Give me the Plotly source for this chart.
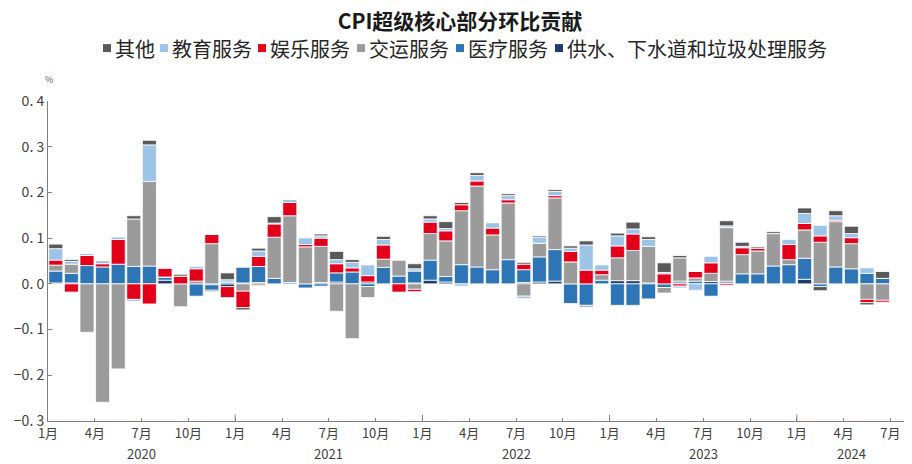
import plotly.graph_objects as go

months = list(range(54))  # Jan 2020 .. Jun 2024 (slot for Jul 2024 left empty)

water     = [0.002,0.002,0,0,0,0,0,0.008,0,0,-0.002,-0.006,0.002,0.003,0,0,0,0.003,0.004,0,0.004,0,0,0.002,
             0.008,0.004,0,0,0,0,0.003,0.004,0.006,0,0,0,0.007,0.007,0.002,0,0.002,0,0.005,0.002,
             0,0,0,0,0.010,0,0,0,0,0]
medical   = [0.026,0.021,0.040,0.037,0.043,0.038,0.039,0.007,0,-0.027,-0.012,0.004,0.035,0.035,0.012,0.003,-0.009,-0.005,0.020,0.026,-0.006,0.036,0.017,0.026,
             0.044,0.012,0.042,0.037,0.031,0.053,0.028,0.055,0.069,-0.043,-0.047,0.008,-0.047,-0.047,-0.033,-0.008,0.004,0.006,-0.027,0.004,
             0.022,0.022,0.039,0.042,0.046,-0.006,0.037,0.033,0.023,0.012]
transport = [0.013,0.020,-0.106,-0.259,-0.186,0.104,0.185,0,-0.050,0.006,0.088,0,-0.016,-0.004,0.090,0.146,0.081,0.079,-0.060,-0.120,-0.024,0.018,0.035,-0.012,
             0.058,0.078,0.118,0.177,0.076,0.124,-0.027,0.030,0.113,0.048,-0.004,0.012,0.050,0.066,0.080,-0.012,0.051,0.007,0.018,0.117,
             0.042,0.050,0.071,0.011,0.062,0.091,0.099,0.055,-0.034,-0.036]
leisure   = [0.011,-0.018,0.022,0.007,0.054,-0.034,-0.044,0.019,0.017,0.027,0.020,-0.024,-0.036,0.022,0.029,0.029,0.005,0.018,0.020,0.009,0.014,0.031,-0.018,-0.005,
             0.025,0.022,0.013,0.011,0.015,0.007,0.012,0,0.005,0.023,0.030,0.010,0.026,0.036,0,0.022,-0.005,0.014,0.023,-0.003,
             0.015,0.006,0,0.033,0.014,0.014,0.003,0.013,-0.007,-0.004]
education = [0.025,0.006,0.005,0.007,0.006,-0.004,0.080,0.003,0,0.006,0,0.005,0,0.012,0.002,0.007,0.015,0.005,0.009,0.012,0.024,0.012,0.002,0.005,
             0.007,0.005,-0.005,0.012,0.012,0.009,-0.005,0.013,0.009,0.007,0.055,0.012,0.022,0.011,0.015,0.003,-0.004,-0.014,0.015,0.004,
             0.003,0,0,0.012,0.022,0.023,0.010,0.009,0.012,0]
other     = [0.010,0.004,0,0,0,0.007,0.010,0,0.004,0,-0.003,0.015,-0.005,0.006,0.014,0,0,0.004,0.018,0.006,0,0.007,0,0.011,
             0.007,0.015,0.005,0.006,0,0.004,0.004,0.003,0.004,0.005,0.009,0,0.006,0.015,0.006,0.021,0.005,0,0,0.011,
             0.009,0.003,0.004,0,0.012,-0.009,0.011,0.016,-0.005,0.015]

# stacking order from zero outward
series = [
    ("供水、下水道和垃圾处理服务", water, "#1F3B6B"),
    ("医疗服务", medical, "#2E75B6"),
    ("交运服务", transport, "#9B9B9B"),
    ("娱乐服务", leisure, "#E3001B"),
    ("教育服务", education, "#9DC3E6"),
    ("其他", other, "#595959"),
]
legend_order = ["其他", "教育服务", "娱乐服务", "交运服务", "医疗服务", "供水、下水道和垃圾处理服务"]

month_tick_pos = [i - 0.5 for i in range(0, 55, 3)]
month_tick_text = ["1月", "4月", "7月", "10月"] * 4 + ["1月", "4月", "7月"]
years = ["2020", "2021", "2022", "2023", "2024"]
year_pos = [5.5, 17.5, 29.5, 41.5, 51.0]
year_bounds = [11.5, 23.5, 35.5, 47.5]

y_vals = [0.4, 0.3, 0.2, 0.1, 0.0, -0.1, -0.2, -0.3]
y_text = ["0.\u00a04", "0.\u00a03", "0.\u00a02", "0.\u00a01", "0.\u00a00", "−0.\u00a01", "−0.\u00a02", "−0.\u00a03"]

# the page body has an 8px margin, so the figure is 8px smaller and
# page coordinates are converted by subtracting 8
OFF = 8
W, H = 912 - OFF, 464 - OFF
ML, MR, MT, MB = 48 - OFF, 6, 101 - OFF, 42.5
PW, PH = W - ML - MR, H - MT - MB

def px(xp):  # page x -> paper x
    return (xp - OFF - ML) / PW

def py(yp):  # page y -> paper y
    return (H - MB - (yp - OFF)) / PH

fig = go.Figure()
for name, vals, color in series:
    fig.add_trace(go.Bar(
        x=months, y=vals, name=name, showlegend=False,
        marker=dict(color=color, line=dict(color="white", width=0.8)),
    ))

font_cjk = "Noto Sans CJK SC, sans-serif"
fig.update_layout(
    width=W, height=H,
    barmode="relative", bargap=0.1,
    plot_bgcolor="white", paper_bgcolor="white",
    margin=dict(l=ML, r=MR, t=MT, b=MB, autoexpand=False),
    title=dict(text="<b>CPI超级核心部分环比贡献</b>", x=0.5, xanchor="center",
               y=1 - (22 - OFF) / H, yanchor="middle", yref="container",
               font=dict(family=font_cjk, size=21, color="#1a1a1a")),
    font=dict(family=font_cjk, size=13, color="#404040"),
    xaxis=dict(range=[-0.5, 54.5], tickmode="array", tickvals=month_tick_pos,
               ticktext=month_tick_text, ticks="inside", ticklen=3, tickcolor="#808080",
               showline=True, linecolor="#808080", linewidth=1, showgrid=False,
               zeroline=False, tickfont=dict(size=13, color="#404040")),
    yaxis=dict(range=[-0.3, 0.4], tickmode="array", tickvals=y_vals, ticktext=y_text,
               ticks="inside", ticklen=4, tickcolor="#808080",
               showline=True, linecolor="#808080", linewidth=1, showgrid=False,
               zeroline=False, tickfont=dict(size=14, color="#404040")),
)

# custom legend: small square + text, laid out like the reference
color_of = {n: c for n, _, c in series}
sym_x = [103, 160, 258, 357, 456, 555]
leg_y = 48
for name, sx in zip(legend_order, sym_x):
    fig.add_shape(type="rect", xref="paper", yref="paper",
                  x0=px(sx), x1=px(sx + 8), y0=py(leg_y + 4), y1=py(leg_y - 4),
                  fillcolor=color_of[name], line=dict(width=0))
    fig.add_annotation(text=name, x=px(sx + 10), xref="paper", y=py(leg_y), yref="paper",
                       xanchor="left", yanchor="middle", showarrow=False,
                       font=dict(family=font_cjk, size=20, color="#262626"))

for xb in year_bounds:
    fig.add_shape(type="line", xref="x", yref="paper", x0=xb, x1=xb, y0=0, y1=0.02,
                  line=dict(color="#808080", width=1))

for yr, xp in zip(years, year_pos):
    fig.add_annotation(text=yr, x=xp, xref="x", y=py(454), yref="paper",
                       showarrow=False, yanchor="middle",
                       font=dict(family=font_cjk, size=13, color="#404040"))

fig.add_annotation(text="%", x=px(49), xref="paper", y=py(79), yref="paper",
                   showarrow=False, xanchor="center", yanchor="middle",
                   font=dict(family=font_cjk, size=9, color="#606060"))

fig.write_html("out.html")
